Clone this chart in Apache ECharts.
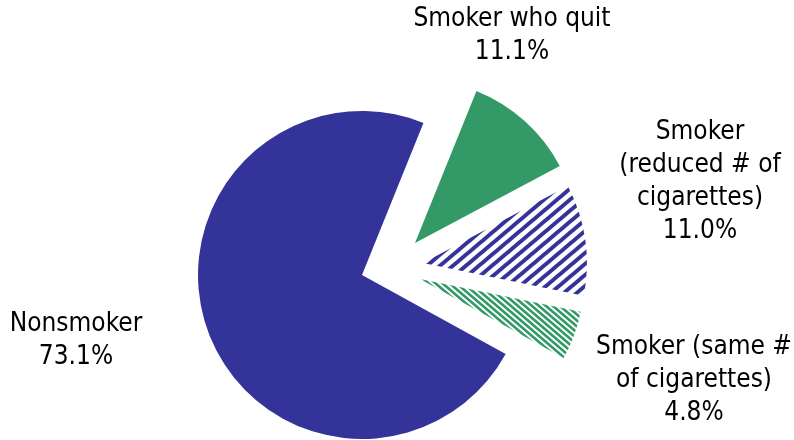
<!DOCTYPE html>
<html><head><meta charset="utf-8">
<script src="https://cdn.jsdelivr.net/npm/echarts@6/dist/echarts.min.js"></script>
<style>html,body{margin:0;padding:0;background:#fff}#c{width:794px;height:440px}</style>
</head><body><div id="c"></div>
<script>
// ---- data ----
const categories = ['Smoker who quit', 'Smoker (reduced # of cigarettes)', 'Smoker (same # of cigarettes)', 'Nonsmoker'];
const labelTexts = ['Smoker who quit', 'Smoker\n(reduced # of\ncigarettes)', 'Smoker (same #\nof cigarettes)', 'Nonsmoker'];
const shares = [11.1, 11.0, 4.8, 73.1];

// ---- styles / layout ----
function stripe(w, h, width, color, dir) {
  const c = document.createElement('canvas');
  c.width = w; c.height = h;
  const g = c.getContext('2d');
  g.fillStyle = '#fff'; g.fillRect(0, 0, w, h);
  g.strokeStyle = color; g.lineWidth = width;
  for (let k = -2; k <= 2; k++) {
    const p0 = dir === '/' ? [k * w, h] : [k * w, 0];
    const d = dir === '/' ? [w, -h] : [w, h];
    g.beginPath();
    g.moveTo(p0[0] - 2 * d[0], p0[1] - 2 * d[1]);
    g.lineTo(p0[0] + 3 * d[0], p0[1] + 3 * d[1]);
    g.stroke();
  }
  return { image: c, repeat: 'repeat' };
}
const fills = ['#339966', stripe(13, 11, 4, '#333399', '/'), stripe(7, 6, 2.6, '#339966', '\\'), '#333399'];
const centers = [[415, 243], [423, 263], [420, 279], [362, 275]];
const labelPos = [[512, 36], [700, 182], [694, 380], [76, 341]];
const fontFamily = '"DejaVu Sans Condensed", "DejaVu Sans", sans-serif';

const chart = echarts.init(document.getElementById('c'), null, { renderer: 'canvas' });
const series = categories.map((_, k) => ({
  type: 'pie',
  radius: 164,
  center: centers[k],
  startAngle: 68,
  clockwise: true,
  silent: true,
  animation: false,
  avoidLabelOverlap: false,
  itemStyle: { borderWidth: 0 },
  label: { show: false },
  labelLine: { show: false },
  emphasis: { disabled: true },
  data: categories.map((name, i) => ({
    name: name,
    value: shares[i],
    itemStyle: { color: i === k ? fills[i] : 'rgba(0,0,0,0)', borderWidth: 0 },
    label: {
      show: i === k,
      position: 'outside',
      formatter: labelTexts[i] + '\n' + shares[i].toFixed(1) + '%',
      fontFamily: fontFamily,
      fontSize: 26,
      lineHeight: 33,
      color: '#000',
      align: 'center'
    },
    labelLine: { show: false }
  })),
  labelLayout: () => ({ x: labelPos[k][0], y: labelPos[k][1], align: 'center', verticalAlign: 'middle' })
}));

chart.setOption({ backgroundColor: '#fff', animation: false, series: series });
</script>
</body></html>
